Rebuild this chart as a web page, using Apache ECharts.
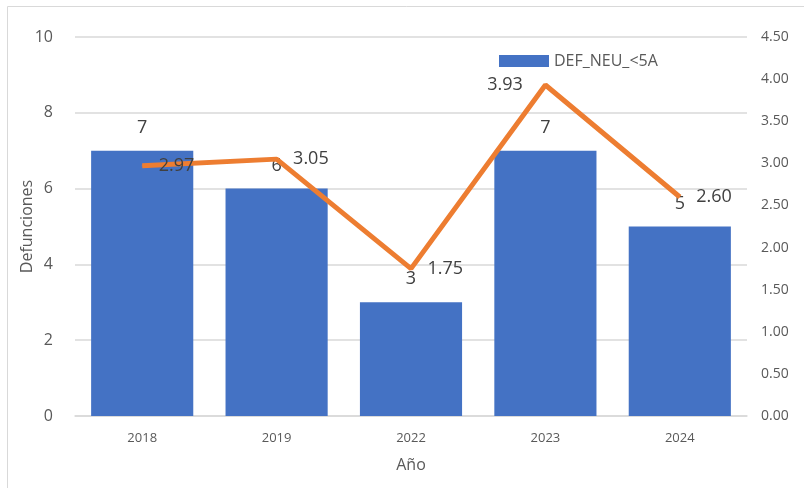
<!DOCTYPE html>
<html>
<head>
<meta charset="utf-8">
<script src="https://cdn.jsdelivr.net/npm/echarts@6/dist/echarts.min.js"></script>
<style>
  html, body { margin: 0; padding: 0; background: #fff; }
  #chart { width: 804px; height: 488px; }
</style>
</head>
<body>
<div id="chart"></div>
<script>
const years = ['2018', '2019', '2022', '2023', '2024']
const defunciones = [7, 6, 3, 7, 5]
const tasa = [2.97, 3.05, 1.75, 3.93, 2.60]
// posición de la etiqueta de la línea por punto
const tasaLabelPos = ['right', 'right', 'right', 'left', 'right']

const chart = echarts.init(document.getElementById('chart'))

chart.setOption({
  animation: false,
  textStyle: { fontFamily: 'Open Sans, sans-serif' },
  graphic: [{
    type: 'rect',
    shape: { x: 7.5, y: 6.5, width: 820, height: 500 },
    style: { fill: 'none', stroke: '#d9d9d9', lineWidth: 1 },
    silent: true
  }],
  legend: {
    data: ['DEF_NEU_<5A'],
    left: 494, top: 48,
    icon: 'rect',
    itemWidth: 50, itemHeight: 12,
    itemGap: 12,
    textStyle: { fontSize: 16, color: '#595959' }
  },
  grid: { left: 75, right: 57, top: 37, bottom: 72 },
  xAxis: {
    type: 'category',
    data: years,
    name: 'Año',
    nameLocation: 'middle',
    nameGap: 41,
    nameTextStyle: { fontSize: 16, color: '#595959' },
    axisLine: { lineStyle: { color: '#d9d9d9', width: 1.5 } },
    axisTick: { show: false },
    axisLabel: { fontSize: 13, color: '#595959', margin: 16 }
  },
  yAxis: [{
    type: 'value',
    min: 0, max: 10, interval: 2,
    name: 'Defunciones',
    nameLocation: 'middle',
    nameGap: 40,
    nameMoveOverlap: false,
    nameTextStyle: { fontSize: 16, color: '#595959' },
    axisLine: { show: false },
    axisTick: { show: false },
    axisLabel: { fontSize: 16, color: '#595959', margin: 22 },
    splitLine: { lineStyle: { color: '#d9d9d9', width: 1.5 } }
  }, {
    type: 'value',
    min: 0, max: 4.5, interval: 0.5,
    axisLine: { show: false },
    axisTick: { show: false },
    axisLabel: { fontSize: 14, color: '#595959', margin: 14, formatter: v => v.toFixed(2) },
    splitLine: { show: false }
  }],
  series: [{
    name: 'DEF_NEU_<5A',
    type: 'bar',
    data: defunciones,
    barWidth: '76%',
    itemStyle: { color: '#4472C4' },
    label: {
      show: true, position: 'top', distance: 14,
      fontSize: 18, color: '#404040'
    }
  }, {
    name: 'Tasa',
    type: 'line',
    yAxisIndex: 1,
    data: tasa.map((v, i) => ({
      value: v,
      label: { position: tasaLabelPos[i], distance: tasaLabelPos[i] === 'left' ? 22 : 16 }
    })),
    symbol: 'circle',
    symbolSize: 1,
    showSymbol: true,
    lineStyle: { color: '#ED7D31', width: 5 },
    itemStyle: { color: '#ED7D31' },
    label: {
      show: true, distance: 16,
      fontSize: 18, color: '#404040',
      formatter: p => p.value.toFixed(2)
    },
    z: 3
  }]
})
</script>
</body>
</html>
